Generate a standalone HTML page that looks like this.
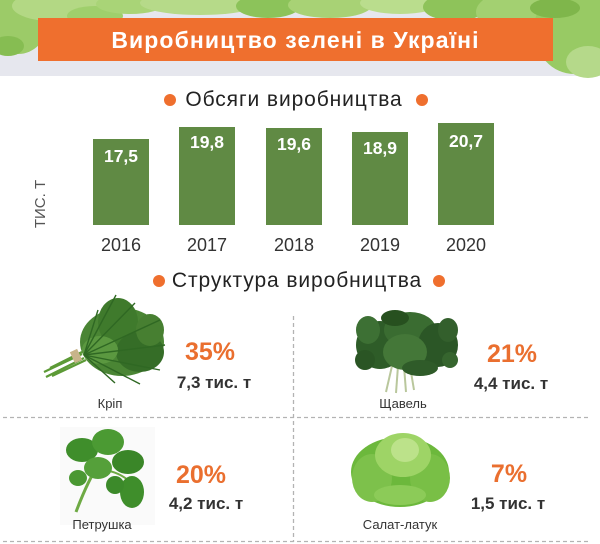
<!DOCTYPE html>
<html><head><meta charset="utf-8"><style>
*{margin:0;padding:0;box-sizing:border-box}
body{width:600px;height:544px;overflow:hidden;background:#fff;font-family:"Liberation Sans","DejaVu Sans",sans-serif}
#w{position:relative;width:600px;height:544px;overflow:hidden;background:#fff}
.t{position:absolute;white-space:nowrap;text-align:center}
.bar{position:absolute;background:#608a44;width:56px}
.bl{position:absolute;width:56px;text-align:center;color:#fff;font-weight:bold;font-size:17.5px;line-height:20px}
.yr{position:absolute;width:80px;text-align:center;color:#333;font-size:18px;line-height:20px}
.pc{position:absolute;width:120px;text-align:center;color:#ea6f2f;font-weight:bold;font-size:25px;line-height:30px}
.am{position:absolute;width:140px;text-align:center;color:#333;font-weight:bold;font-size:17px;line-height:20px}
.nm{position:absolute;width:120px;text-align:center;color:#333;font-size:13px;line-height:16px}
.dot{position:absolute;width:12px;height:12px;border-radius:50%;background:#ef6f2e}
</style></head><body><div id="w">
<svg width="600" height="544" style="position:absolute;left:0;top:0">
<rect x="0" y="0" width="600" height="76" fill="#e6e7ee"/>
<!-- header leaves -->
<ellipse cx="18" cy="22" rx="30" ry="32" fill="#9ccb68"/>
<ellipse cx="8" cy="46" rx="16" ry="10" fill="#86bd52"/>
<ellipse cx="60" cy="6" rx="48" ry="16" fill="#b3d884"/>
<ellipse cx="95" cy="16" rx="28" ry="10" fill="#9fcf6c"/>
<ellipse cx="130" cy="4" rx="34" ry="10" fill="#a9d477"/>
<ellipse cx="200" cy="3" rx="60" ry="12" fill="#b6da89"/>
<ellipse cx="268" cy="6" rx="32" ry="12" fill="#8cc35a"/>
<ellipse cx="330" cy="5" rx="42" ry="13" fill="#a8d275"/>
<ellipse cx="400" cy="3" rx="40" ry="11" fill="#badd8d"/>
<ellipse cx="455" cy="7" rx="32" ry="14" fill="#8ec35a"/>
<ellipse cx="512" cy="12" rx="36" ry="20" fill="#a3d071"/>
<ellipse cx="574" cy="30" rx="40" ry="44" fill="#98ca64"/>
<ellipse cx="588" cy="62" rx="22" ry="16" fill="#b5d98a"/>
<ellipse cx="555" cy="8" rx="25" ry="10" fill="#7fb64b"/>
<!-- banner -->
<rect x="38" y="18" width="515" height="43" fill="#ef6f2e"/>
<!-- dashed grid -->
<g stroke="#b3b3b3" stroke-width="1.3" stroke-dasharray="4 3" fill="none">
<line x1="3" y1="417.5" x2="590" y2="417.5"/>
<line x1="3" y1="541.5" x2="590" y2="541.5"/>
<line x1="293.5" y1="316" x2="293.5" y2="542"/>
</g>
<!-- dill -->
<g>
<g stroke="#5c9a36" stroke-width="2.2">
<line x1="44" y1="372" x2="82" y2="354"/>
<line x1="46" y1="377" x2="84" y2="358"/>
<line x1="50" y1="368" x2="82" y2="352"/>
<line x1="52" y1="376" x2="86" y2="360"/>
</g>
<rect x="72" y="350" width="8" height="12" fill="#c8b48a" transform="rotate(-25 76 356)"/>
<ellipse cx="122" cy="342" rx="42" ry="34" fill="#4a8534"/>
<ellipse cx="118" cy="322" rx="20" ry="24" fill="#3f7a2c"/>
<ellipse cx="140" cy="352" rx="24" ry="20" fill="#356d27"/>
<ellipse cx="100" cy="350" rx="18" ry="14" fill="#5b9840"/>
<ellipse cx="150" cy="330" rx="14" ry="16" fill="#477f31"/>
<g stroke="#2f6823" stroke-width="1.4">
<line x1="84" y1="355" x2="116" y2="295"/>
<line x1="84" y1="355" x2="135" y2="303"/>
<line x1="84" y1="355" x2="160" y2="320"/>
<line x1="84" y1="355" x2="165" y2="345"/>
<line x1="84" y1="355" x2="160" y2="370"/>
<line x1="84" y1="355" x2="140" y2="384"/>
<line x1="84" y1="355" x2="98" y2="310"/>
<line x1="84" y1="355" x2="115" y2="383"/>
</g>
</g>
<!-- spinach -->
<g>
<g stroke="#b9c79c" stroke-width="2">
<line x1="392" y1="366" x2="386" y2="392"/>
<line x1="398" y1="366" x2="396" y2="393"/>
<line x1="404" y1="366" x2="406" y2="392"/>
<line x1="410" y1="366" x2="414" y2="390"/>
</g>
<ellipse cx="380" cy="345" rx="24" ry="24" fill="#2e5c28"/>
<ellipse cx="410" cy="330" rx="26" ry="18" fill="#3a6c31"/>
<ellipse cx="438" cy="345" rx="20" ry="22" fill="#2b5626"/>
<ellipse cx="405" cy="352" rx="22" ry="18" fill="#447738"/>
<ellipse cx="368" cy="330" rx="12" ry="14" fill="#3d7034"/>
<ellipse cx="448" cy="330" rx="10" ry="12" fill="#335f2c"/>
<ellipse cx="395" cy="318" rx="14" ry="8" fill="#27501f"/>
<ellipse cx="420" cy="368" rx="18" ry="8" fill="#2f5b29"/>
<ellipse cx="365" cy="360" rx="10" ry="10" fill="#2a5524"/>
<ellipse cx="450" cy="360" rx="8" ry="8" fill="#36652e"/>
</g>
<!-- parsley -->
<g>
<rect x="60" y="427" width="95" height="98" fill="#fafafa"/>
<path d="M76 512 Q88 480 100 462" stroke="#6eaa44" stroke-width="3" fill="none"/>
<path d="M100 470 Q115 470 128 480" stroke="#6eaa44" stroke-width="2" fill="none"/>
<ellipse cx="82" cy="450" rx="16" ry="12" fill="#3f8e2b"/>
<ellipse cx="108" cy="442" rx="16" ry="13" fill="#4b9a33"/>
<ellipse cx="128" cy="462" rx="16" ry="12" fill="#3a8628"/>
<ellipse cx="98" cy="468" rx="14" ry="11" fill="#55a03a"/>
<ellipse cx="132" cy="492" rx="12" ry="16" fill="#3f8e2b"/>
<ellipse cx="78" cy="478" rx="9" ry="8" fill="#4a9832"/>
<ellipse cx="115" cy="485" rx="9" ry="9" fill="#3c8a2a"/>
</g>
<!-- lettuce -->
<g>
<ellipse cx="400" cy="472" rx="49" ry="35" fill="#6cb83c"/>
<ellipse cx="372" cy="478" rx="20" ry="24" fill="#7dc14b"/>
<ellipse cx="430" cy="478" rx="20" ry="24" fill="#79bf46"/>
<ellipse cx="403" cy="455" rx="28" ry="22" fill="#9ed466"/>
<ellipse cx="405" cy="450" rx="14" ry="12" fill="#bce28a"/>
<ellipse cx="400" cy="495" rx="26" ry="10" fill="#8ccb58"/>
</g>
</svg>

<div class="t" style="left:38px;top:25px;width:515px;line-height:30px;font-size:23px;font-weight:bold;color:#fff;letter-spacing:1.1px">Виробництво зелені в Україні</div>

<div class="dot" style="left:164px;top:94px"></div>
<div class="t" style="left:176px;top:87px;width:236px;line-height:26px;font-size:21px;color:#222;letter-spacing:0.9px">Обсяги виробництва</div>
<div class="dot" style="left:416px;top:94px"></div>

<div class="bar" style="left:93px;top:139px;height:86px"></div>
<div class="bar" style="left:179px;top:127px;height:98px"></div>
<div class="bar" style="left:266px;top:128px;height:97px"></div>
<div class="bar" style="left:352px;top:132px;height:93px"></div>
<div class="bar" style="left:438px;top:123px;height:102px"></div>
<div class="bl" style="left:93px;top:146px">17,5</div>
<div class="bl" style="left:179px;top:132px">19,8</div>
<div class="bl" style="left:266px;top:134px">19,6</div>
<div class="bl" style="left:352px;top:138px">18,9</div>
<div class="bl" style="left:438px;top:131px">20,7</div>

<div class="yr" style="left:81px;top:235px">2016</div>
<div class="yr" style="left:167px;top:235px">2017</div>
<div class="yr" style="left:254px;top:235px">2018</div>
<div class="yr" style="left:340px;top:235px">2019</div>
<div class="yr" style="left:426px;top:235px">2020</div>

<div class="t" style="left:1px;top:195px;width:80px;line-height:18px;font-size:15px;color:#555;transform:rotate(-90deg);text-transform:uppercase">тис. т</div>

<div class="dot" style="left:153px;top:275px"></div>
<div class="t" style="left:166px;top:268px;width:262px;line-height:26px;font-size:21px;color:#222;letter-spacing:0.9px">Структура виробництва</div>
<div class="dot" style="left:433px;top:275px"></div>

<div class="pc" style="left:150px;top:337px">35%</div>
<div class="am" style="left:144px;top:373px">7,3 тис. т</div>
<div class="nm" style="left:50px;top:396px">Кріп</div>

<div class="pc" style="left:452px;top:339px">21%</div>
<div class="am" style="left:441px;top:374px">4,4 тис. т</div>
<div class="nm" style="left:343px;top:396px">Щавель</div>

<div class="pc" style="left:141px;top:460px">20%</div>
<div class="am" style="left:136px;top:494px">4,2 тис. т</div>
<div class="nm" style="left:42px;top:517px">Петрушка</div>

<div class="pc" style="left:449px;top:459px">7%</div>
<div class="am" style="left:438px;top:494px">1,5 тис. т</div>
<div class="nm" style="left:340px;top:517px">Салат-латук</div>
</div></body></html>
